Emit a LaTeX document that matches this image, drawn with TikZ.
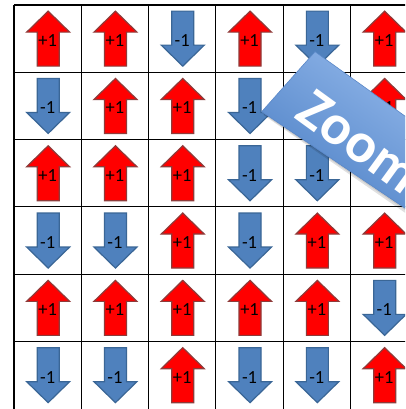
\documentclass[tikz,border=0pt]{standalone}
\usepackage{fontspec}
\setmainfont{Carlito}
\usetikzlibrary{calc}
\definecolor{upfill}{HTML}{FF0000}
\definecolor{upline}{HTML}{8E3B3A}
\definecolor{dnfill}{HTML}{4F81BD}
\definecolor{dnline}{HTML}{3A6696}
\definecolor{bantop}{HTML}{8EB4E8}
\definecolor{banbot}{HTML}{4A7EC4}
\definecolor{banline}{HTML}{5A88C8}
\tikzset{
  gridline/.style={draw=black, line width=1.1pt},
  arrowbody/.style={line width=1.2pt, line join=miter},
  lbl/.style={inner sep=0pt, font=\fontsize{18.5}{20}\selectfont, text=black},
  zoomtxt/.style={inner sep=0pt, text=white, font=\fontsize{57}{60}\selectfont\bfseries}
}
\begin{document}
\begin{tikzpicture}[x=1pt, y=1pt]
\useasboundingbox (0,0) rectangle (405,-409);
\clip (0,0) rectangle (405,-409);
\fill[white] (0,0) rectangle (405,-409);
% grid
\foreach \i in {0,...,5} {
  \draw[gridline] ({14+67.3*\i},-5) -- ({14+67.3*\i},-412);
}
\foreach \j in {0,...,5} {
  \draw[gridline] (14,{-(5+67.3*\j)}) -- (410,{-(5+67.3*\j)});
}
% arrows
\foreach \r/\c/\s in {1/1/1,1/2/1,1/3/-1,1/4/1,1/5/-1,1/6/1,
                      2/1/-1,2/2/1,2/3/1,2/4/-1,2/6/1,
                      3/1/1,3/2/1,3/3/1,3/4/-1,3/5/-1,
                      4/1/-1,4/2/-1,4/3/1,4/4/-1,4/5/1,4/6/1,
                      5/1/1,5/2/1,5/3/1,5/4/1,5/5/1,5/6/-1,
                      6/1/-1,6/2/-1,6/3/1,6/4/-1,6/5/-1,6/6/1} {
  \ifnum\s>0 \def\fc{upfill}\def\lc{upline}\def\lab{+1}\else\def\fc{dnfill}\def\lc{dnline}\def\lab{-1}\fi
  \draw[arrowbody, fill=\fc, draw=\lc, shift={({14+(\c-0.5)*67.3+0.5},{-(5+(\r-0.5)*67.3)})}, yscale=\s]
    (0,27.5) -- (21.5,6.5) -- (11,6.5) -- (11,-27.5) -- (-11,-27.5) -- (-11,6.5) -- (-21.5,6.5) -- cycle;
  \node[lbl] (n\r\c) at ({14+(\c-0.5)*67.3},{-(5+(\r-0.5)*67.3)-2}) {\lab};
}
% banner shadow
\fill[black, opacity=0.12] (263.5,-115) -- (317,-55) -- (430,-137) -- (430,-230) -- cycle;
\fill[black, opacity=0.10] (262.5,-113.5) -- (316,-53.5) -- (430,-134) -- (430,-227) -- cycle;
% banner
\shade[top color=bantop, bottom color=banbot, shading angle=-35, draw=banline, line width=0.6pt]
  (261.7,-111.7) -- (315,-51.7) -- (430,-134) -- (430,-225) -- cycle;
\node[zoomtxt, anchor=west, rotate=-36] (zoom) at (304.5,-102.2) {Zoom};
\end{tikzpicture}
\end{document}
